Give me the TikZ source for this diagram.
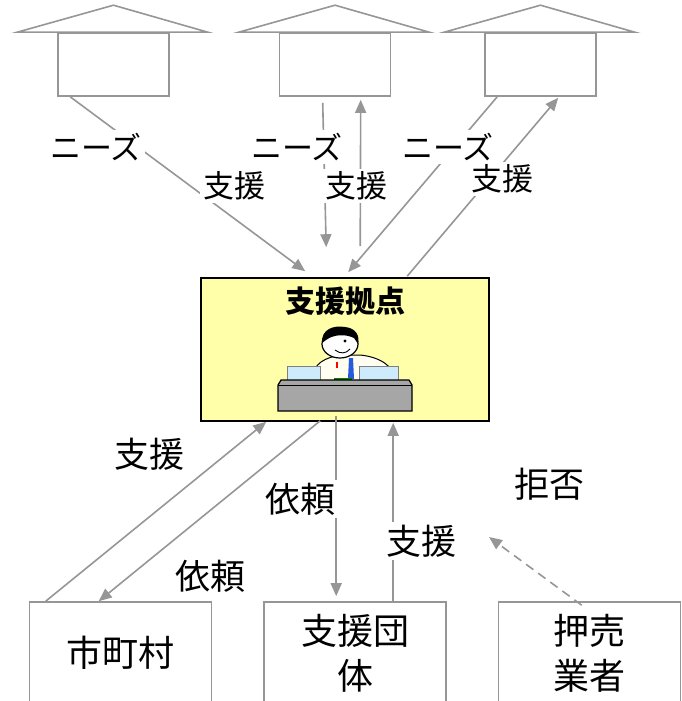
\documentclass[tikz,border=0pt]{standalone}
\usepackage{fontspec}
\newfontfamily\jp{Noto Sans CJK JP}
\usepackage{tikz}
\usetikzlibrary{
    arrows.meta,
    positioning,
    calc
}

\definecolor{linegray}{RGB}{150,150,150}
\definecolor{hubfill}{RGB}{255,255,170}
\definecolor{deskgray}{RGB}{166,166,166}
\definecolor{screen}{RGB}{205,235,250}
\definecolor{tieblue}{RGB}{40,90,220}

\begin{document}
\begin{tikzpicture}[
    x=1pt, y=-1pt,
    >={Triangle[length=13pt, width=11pt]},
    line width=1.6pt,
    house/.style={rectangle, draw=linegray,
                  minimum width=111pt, minimum height=63pt},
    unit/.style={rectangle, draw=linegray,
                 minimum width=182pt, minimum height=102pt,
                 align=center, font=\jp\fontsize{36}{45}\selectfont},
    hub/.style={rectangle, draw=black, fill=hubfill,
                minimum width=288pt, minimum height=143pt},
    title/.style={font=\jp\bfseries\fontsize{30}{32}\selectfont},
    link/.style={->, draw=linegray},
    lab/.style={fill=white, inner sep=3pt, font=\jp\fontsize{31}{33}\selectfont},
    biglab/.style={fill=white, inner sep=3pt, font=\jp\fontsize{35}{37}\selectfont}
]
\useasboundingbox (0,0) rectangle (681,701);

% =========================
% 1) HOUSES (TOP)
% =========================
\foreach \n/\x in {H1/113.5, H2/335, H3/540.5} {
    \node[house] (\n) at (\x,64.5) {};
    \draw[linegray] ([xshift=-40pt]\n.north west) -- ([yshift=27pt]\n.north)
        -- ([xshift=38pt]\n.north east) -- cycle;
}

% =========================
% 2) SUPPORT BASE (MIDDLE)
% =========================
\node[hub] (C) at (345,349.5) {};
\node[title, below=6pt of C.north] (T) {支援拠点};

% clerk at the desk
\draw[line width=1pt, fill=yellow!6] (312,381) .. controls (312,363) and (326,357) .. (342,355)
    -- (360,355) .. controls (380,357) and (394,366) .. (396,381) -- cycle;
\fill[tieblue] (349,358) -- (353,358) -- (354,379) -- (348,379) -- cycle;
\fill[red] (336,362) rectangle (338,368);
\draw[line width=1.2pt, fill=white] (340,344) ellipse [x radius=18pt, y radius=14pt];
\fill[black] (322,343) .. controls (321,329) and (334,325) .. (345,327)
    .. controls (356,328) and (360,336) .. (358,344)
    -- (354,338) .. controls (346,334) and (334,334) .. (326,340) -- cycle;
\fill (345,341) circle (1.6pt);
\draw[line width=0.9pt] (335,350) .. controls (340,354) and (346,354) .. (350,349);
\draw[line width=1pt, draw=gray, fill=screen] (287,366) rectangle (320,382);
\draw[line width=1pt, draw=gray, fill=screen] (359,366) rectangle (398,382);
\fill[green!50!black] (334,378) rectangle (352,381);
\draw[line width=1.2pt, fill=deskgray] (281,380) -- (409,380) -- (412,385)
    -- (412,411) -- (278,411) -- (278,385) -- cycle;
\draw[line width=1pt] (278,385) -- (412,385);

% =========================
% 3) PARTNERS (BOTTOM)
% =========================
\node[unit] (M) at (120.5,653) {市町村};
\node[unit] (G) at (355,653)   {支援団\\体};
\node[unit] (S) at (589.5,653) {押売\\業者};
\coordinate (D) at (489,537);

% needs and support between houses and base
\draw[link] ([xshift=13pt]H1.south west) -- ([xshift=105pt, yshift=6pt]C.north west);
\draw[link] ([xshift=44pt, yshift=-6pt]H2.south west) -- ([xshift=126pt, yshift=30pt]C.north west);
\draw[link] ([xshift=160pt, yshift=31pt]C.north west) -- ([xshift=82pt, yshift=-3pt]H2.south west);
\draw[link] ([xshift=13pt]H3.south west) -- ([xshift=148pt, yshift=5pt]C.north west);
\draw[link] ([xshift=207pt, yshift=1pt]C.north west) -- ([xshift=74pt, yshift=-1pt]H3.south west);

% requests and support below the base
\draw[link] ([xshift=17pt]M.north west) -- ([xshift=66pt]C.south west);
\draw[link] ([xshift=120pt, yshift=1pt]C.south west) -- ([xshift=70pt]M.north west);
\draw[link] ([xshift=136pt, yshift=6pt]C.south west) -- ([xshift=73pt, yshift=5pt]G.north west);
\draw[link] ([xshift=130pt]G.north west) -- ([xshift=193pt, yshift=-1pt]C.south west);
\draw[link, dash pattern=on 9pt off 6pt] ([xshift=84pt, yshift=-4pt]S.north west) -- (D);

% labels
\node[lab] (n1) at (96,147)  {ニーズ};
\node[lab] (n2) at (297,147) {ニーズ};
\node[lab] (n3) at (448,147) {ニーズ};
\node[lab] (a1) at (234,186) {支援};
\node[lab] (a2) at (356,186) {支援};
\node[lab] (a3) at (502,179) {支援};
\node[biglab] (a4) at (149,454) {支援};
\node[biglab] (r1) at (210,576) {依頼};
\node[biglab] (r2) at (300,499) {依頼};
\node[biglab] (a5) at (421,541) {支援};
\node[biglab] (x1) at (549,484) {拒否};

\end{tikzpicture}
\end{document}
